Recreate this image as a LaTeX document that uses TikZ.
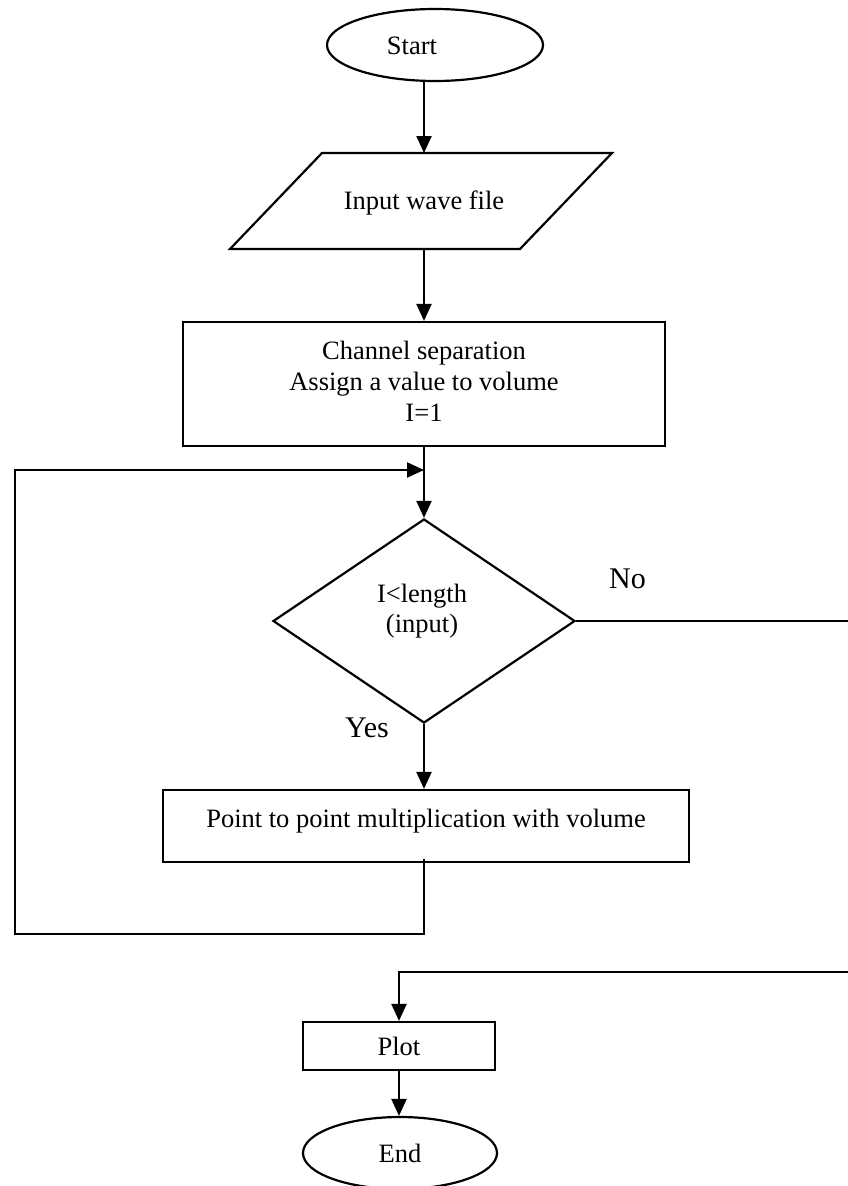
\documentclass[tikz,border=0pt]{standalone}
\usepackage{fontspec}
\setmainfont{Liberation Serif}
\usetikzlibrary{shapes.geometric,arrows.meta}
\begin{document}
\begin{tikzpicture}[x=1pt,y=-1pt,
  line width=2.2pt,
  flow/.style={draw, line width=2.2pt, inner sep=0pt},
  txt/.style={font=\fontsize{26.5}{31}\selectfont, inner sep=0pt, anchor=base},
  big/.style={font=\fontsize{30}{34}\selectfont, inner sep=0pt, anchor=base west},
  arr/.style={-{Triangle[length=17pt,width=15pt]}}
]
\useasboundingbox (0,0) rectangle (848,1186);

% start terminal
\node[flow, ellipse, minimum width=216pt, minimum height=72pt] (start) at (435,45) {};
\node[txt] (startT) at (412,54) {Start};

% input parallelogram
\draw (322,153) -- (612,153) -- (520,249) -- (230,249) -- cycle;
\coordinate (inTop) at (424,153);
\coordinate (inBot) at (424,249);
\node[txt] (inT) at (424,209) {Input wave file};

% initialisation block
\node[flow, minimum width=482pt, minimum height=124pt] (init) at (424,384) {};
\node[txt] (initT1) at (424,359) {Channel separation};
\node[txt] (initT2) at (424,390) {Assign a value to volume};
\node[txt] (initT3) at (424,421) {I=1};

% decision
\node[flow, diamond, minimum width=302pt, minimum height=204pt] (cond) at (424,621) {};
\node[txt] (condT1) at (422,602) {I<length};
\node[txt] (condT2) at (422,632) {(input)};
\node[big] (noT) at (608,588) {No};
\node[big] (yesT) at (344,737) {Yes};

% loop body
\node[flow, minimum width=526pt, minimum height=72pt] (mult) at (426,826) {};
\node[txt] (multT) at (426,827) {Point to point multiplication with volume};

% output
\node[flow, minimum width=192pt, minimum height=48pt] (plot) at (399,1046) {};
\node[txt] (plotT) at (399,1055) {Plot};
\node[flow, ellipse, minimum width=194pt, minimum height=72pt] (end) at (400,1153) {};
\node[txt] (endT) at (400,1162) {End};

% loop path coordinates
\coordinate (l1) at (424,934);
\coordinate (l2) at (15,934);
\coordinate (l3) at (15,470);
\coordinate (join) at (424,470);
\coordinate (r1) at (858,621);
\coordinate (r2) at (858,972);
\coordinate (r3) at (399,972);

% connectors
\draw[arr] (start.south -| inTop) -- (inTop);
\draw[arr] (inBot) -- (init.north);
\draw[arr] (init.south) -- (cond.north);
\draw[arr] (cond.south) -- (cond.south |- mult.north);
\draw[arr] ([yshift=4pt]mult.south -| l1) -- (l1) -- (l2) -- (l3) -- (join);
\draw[arr] (cond.east) -- (r1) -- (r2) -- (r3) -- (plot.north);
\draw[arr] (plot.south) -- (plot.south |- end.north);
\end{tikzpicture}
\end{document}
